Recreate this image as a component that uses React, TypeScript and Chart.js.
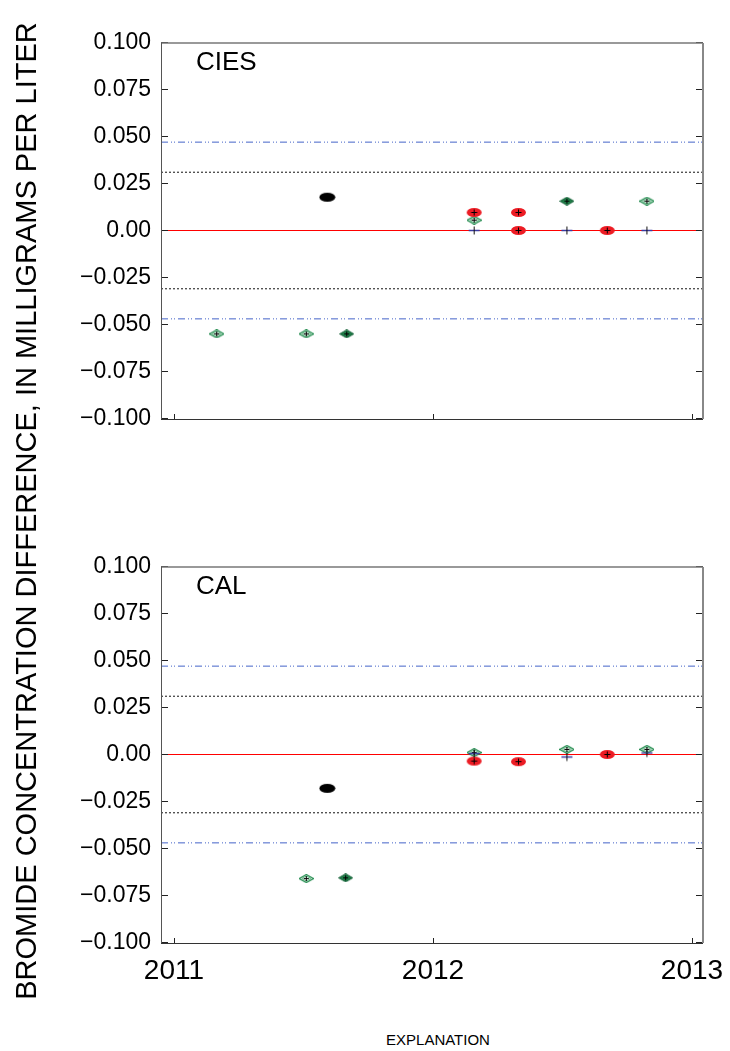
import React, { useEffect, useRef } from 'react';
import { Chart, registerables } from 'chart.js';

Chart.register(...registerables);

const FONT = '"Liberation Sans", Arial, Helvetica, sans-serif';

// ---- axes ----
const xTickValues = [2011, 2012, 2013];
const xTickLabels = ['2011', '2012', '2013'];
const xMin = 2010.95;
const xMax = 2013.0425;
const yTickValues = [-0.1, -0.075, -0.05, -0.025, 0, 0.025, 0.05, 0.075, 0.1];
const yTickLabels = ['\u22120.100', '\u22120.075', '\u22120.050', '\u22120.025', '0.00', '0.025', '0.050', '0.075', '0.100'];
const yMin = -0.1;
const yMax = 0.1;

// ---- reference levels ----
const zeroLevel = [0];
const dottedLevels = [0.031, -0.031];
const dashDotLevels = [0.047, -0.047];

// ---- CIES panel (decimal year, difference mg/L) ----
type Pt = [number, number];
const ciesRed: Pt[] = [[2012.159, 0.0096], [2012.33, 0.0096], [2012.33, 0], [2012.673, 0]];
const ciesGreenOpen: Pt[] = [[2011.165, -0.055], [2011.511, -0.055], [2012.159, 0.0055], [2012.826, 0.0156]];
const ciesGreenFilled: Pt[] = [[2011.667, -0.055], [2012.517, 0.0156]];
const ciesBlack: Pt[] = [[2011.592, 0.0177]];
const ciesBlue: Pt[] = [[2012.159, 0], [2012.517, 0], [2012.826, 0]];

// ---- CAL panel ----
const calRed: Pt[] = [[2012.159, -0.0035], [2012.33, -0.0038], [2012.673, 0]];
const calGreenOpen: Pt[] = [[2011.511, -0.066], [2012.159, 0.001], [2012.517, 0.0027], [2012.826, 0.0027]];
const calGreenFilled: Pt[] = [[2011.663, -0.0656]];
const calBlack: Pt[] = [[2011.592, -0.018]];
const calBlue: Pt[] = [[2012.159, 0.0005], [2012.517, -0.0013], [2012.826, 0.0008]];

type Panel = { red: Pt[]; greenOpen: Pt[]; greenFilled: Pt[]; black: Pt[]; blue: Pt[] };

function makeCanvas(w: number, h: number, draw: (ctx: CanvasRenderingContext2D) => void) {
  const c = document.createElement('canvas');
  c.width = w;
  c.height = h;
  const ctx = c.getContext('2d')!;
  draw(ctx);
  return c;
}

function plus(ctx: CanvasRenderingContext2D, cx: number, cy: number, r: number, color = '#000') {
  ctx.strokeStyle = color;
  ctx.lineWidth = 1;
  ctx.beginPath();
  ctx.moveTo(cx - r, cy);
  ctx.lineTo(cx + r, cy);
  ctx.moveTo(cx, cy - r);
  ctx.lineTo(cx, cy + r);
  ctx.stroke();
}

function diamond(ctx: CanvasRenderingContext2D, cx: number, cy: number, hw: number, hh: number) {
  ctx.beginPath();
  ctx.moveTo(cx, cy - hh);
  ctx.lineTo(cx + hw, cy);
  ctx.lineTo(cx, cy + hh);
  ctx.lineTo(cx - hw, cy);
  ctx.closePath();
}

function makeMarkers() {
  const red = makeCanvas(17, 11, (ctx) => {
    ctx.fillStyle = '#ec1c24';
    ctx.beginPath();
    ctx.ellipse(8.5, 5.5, 7.5, 4.5, 0, 0, Math.PI * 2);
    ctx.fill();
    plus(ctx, 8.5, 5.5, 3);
  });
  const black = makeCanvas(17, 11, (ctx) => {
    ctx.fillStyle = '#000';
    ctx.beginPath();
    ctx.ellipse(8.5, 5.5, 8, 4.5, 0, 0, Math.PI * 2);
    ctx.fill();
  });
  const greenOpen = makeCanvas(15, 9, (ctx) => {
    diamond(ctx, 7.5, 4.5, 7, 4);
    ctx.fillStyle = '#fff';
    ctx.fill();
    ctx.strokeStyle = '#1f8a4c';
    ctx.lineWidth = 1.2;
    ctx.stroke();
    diamond(ctx, 7.5, 4.5, 4.5, 2.5);
    ctx.strokeStyle = '#5fb582';
    ctx.lineWidth = 1;
    ctx.stroke();
    plus(ctx, 7.5, 4.5, 2.5);
  });
  const greenFilled = makeCanvas(15, 9, (ctx) => {
    diamond(ctx, 7.5, 4.5, 7, 4);
    ctx.fillStyle = '#1f7d48';
    ctx.fill();
    ctx.strokeStyle = '#105c33';
    ctx.lineWidth = 1;
    ctx.stroke();
    plus(ctx, 7.5, 4.5, 2.5);
  });
  const blue = makeCanvas(13, 11, (ctx) => {
    ctx.strokeStyle = '#3a3a9e';
    ctx.lineWidth = 1.5;
    ctx.beginPath();
    ctx.moveTo(1, 5.5);
    ctx.lineTo(12, 5.5);
    ctx.stroke();
    ctx.strokeStyle = '#111';
    ctx.lineWidth = 1;
    ctx.beginPath();
    ctx.moveTo(6.5, 1.5);
    ctx.lineTo(6.5, 9.5);
    ctx.stroke();
  });
  return { red, black, greenOpen, greenFilled, blue };
}

type Markers = ReturnType<typeof makeMarkers>;

function framePlugin(label: string) {
  return {
    id: 'frame_' + label,
    afterDraw(chart: any) {
      const { ctx, chartArea } = chart;
      const left = Math.round(chartArea.left);
      const right = Math.round(chartArea.right);
      const top = Math.round(chartArea.top);
      const bottom = Math.round(chartArea.bottom);
      const xs = chart.scales.x;
      const ys = chart.scales.y;
      ctx.save();
      ctx.strokeStyle = '#222';
      ctx.lineWidth = 1;
      ctx.beginPath();
      ys.ticks.forEach((t: any) => {
        const py = Math.floor(ys.getPixelForValue(t.value)) + 0.5;
        ctx.moveTo(left, py);
        ctx.lineTo(left + 7, py);
        ctx.moveTo(right, py);
        ctx.lineTo(right - 7, py);
      });
      xs.ticks.forEach((t: any) => {
        const px = Math.round(xs.getPixelForValue(t.value)) + 0.5;
        ctx.moveTo(px, bottom);
        ctx.lineTo(px, bottom - 5);
      });
      ctx.stroke();
      // frame
      ctx.lineWidth = 1.5;
      ctx.strokeStyle = '#777';
      ctx.beginPath();
      ctx.moveTo(left, top);
      ctx.lineTo(right, top);
      ctx.stroke();
      ctx.lineWidth = 2;
      ctx.strokeStyle = '#888';
      ctx.beginPath();
      ctx.moveTo(right, top);
      ctx.lineTo(right, bottom);
      ctx.stroke();
      ctx.lineWidth = 1;
      ctx.strokeStyle = '#555';
      ctx.beginPath();
      ctx.moveTo(left + 0.5, top);
      ctx.lineTo(left + 0.5, bottom);
      ctx.stroke();
      ctx.strokeStyle = '#333';
      ctx.beginPath();
      ctx.moveTo(left, bottom + 0.5);
      ctx.lineTo(right, bottom + 0.5);
      ctx.stroke();
      // panel label
      ctx.fillStyle = '#000';
      ctx.font = '26px ' + FONT;
      ctx.textAlign = 'left';
      ctx.textBaseline = 'alphabetic';
      ctx.fillText(label, left + 35, top + 27);
      ctx.restore();
    },
  };
}

function buildConfig(panel: Panel, label: string, showX: boolean, padTop: number, xAxisH: number, m: Markers): any {
  const lineSet = (level: number, color: string, dash: number[], width = 1) => ({
    type: 'line',
    order: 10,
    data: [
      { x: xMin, y: level },
      { x: xMax, y: level },
    ],
    borderColor: color,
    borderWidth: width,
    borderDash: dash,
    pointRadius: 0,
    showLine: true,
    fill: false,
  });
  const ptSet = (pts: Pt[], img: HTMLCanvasElement, order: number) => ({
    type: 'scatter',
    order,
    data: pts.map(([x, y]) => ({ x, y })),
    pointStyle: img,
    pointRadius: 5,
    pointHoverRadius: 5,
    showLine: false,
  });
  return {
    type: 'scatter',
    data: {
      datasets: [
        ...dottedLevels.map((l) => lineSet(l, '#111', [2, 2])),
        ...dashDotLevels.map((l) => lineSet(l, '#4463c8', [7, 3, 1, 2, 1, 3], 1)),
        ...zeroLevel.map((l) => lineSet(l, '#ff0000', [], 1)),
        ptSet(panel.greenOpen, m.greenOpen, 4),
        ptSet(panel.greenFilled, m.greenFilled, 3),
        ptSet(panel.red, m.red, 2),
        ptSet(panel.blue, m.blue, 1),
        ptSet(panel.black, m.black, 0),
      ],
    },
    options: {
      animation: false,
      responsive: false,
      events: [],
      layout: { padding: { top: padTop, right: 27, left: 0, bottom: 0 } },
      plugins: { legend: { display: false }, tooltip: { enabled: false }, title: { display: false } },
      scales: {
        x: {
          type: 'linear',
          min: xMin,
          max: xMax,
          afterBuildTicks: (s: any) => {
            s.ticks = xTickValues.map((v) => ({ value: v }));
          },
          afterFit: (s: any) => {
            s.height = xAxisH;
            s.paddingLeft = 0;
            s.paddingRight = 0;
          },
          ticks: {
            display: showX,
            autoSkip: false,
            maxRotation: 0,
            padding: 12,
            color: '#000',
            font: { size: 28, family: FONT },
            callback: (_v: any, i: number) => xTickLabels[i],
          },
          grid: { display: false, drawTicks: false },
          border: { display: false },
        },
        y: {
          type: 'linear',
          min: yMin,
          max: yMax,
          afterBuildTicks: (s: any) => {
            s.ticks = yTickValues.map((v) => ({ value: v }));
          },
          afterFit: (s: any) => {
            s.width = 161;
            s.paddingTop = 0;
            s.paddingBottom = 0;
          },
          ticks: {
            autoSkip: false,
            padding: 10,
            color: '#000',
            font: { size: 23, family: FONT },
            callback: (_v: any, i: number) => yTickLabels[i],
          },
          grid: { display: false, drawTicks: false },
          border: { display: false },
        },
      },
    },
    plugins: [framePlugin(label)],
  };
}

const ciesPanel: Panel = { red: ciesRed, greenOpen: ciesGreenOpen, greenFilled: ciesGreenFilled, black: ciesBlack, blue: ciesBlue };
const calPanel: Panel = { red: calRed, greenOpen: calGreenOpen, greenFilled: calGreenFilled, black: calBlack, blue: calBlue };

export default function App() {
  const topRef = useRef<HTMLCanvasElement>(null);
  const botRef = useRef<HTMLCanvasElement>(null);

  useEffect(() => {
    const marks = makeMarkers();
    const c1 = new Chart(topRef.current!, buildConfig(ciesPanel, 'CIES', false, 42.5, 51.5, marks));
    const c2 = new Chart(botRef.current!, buildConfig(calPanel, 'CAL', true, 66.5, 57.5, marks));
    return () => {
      c1.destroy();
      c2.destroy();
    };
  }, []);

  return (
    <div style={{ position: 'absolute', left: 0, top: 0, width: 730, height: 1051, overflow: 'hidden', background: '#fff', fontFamily: FONT, color: '#000' }}>
      <canvas ref={topRef} width={730} height={470} style={{ position: 'absolute', left: 0, top: 0, width: 730, height: 470 }} />
      <canvas ref={botRef} width={730} height={500} style={{ position: 'absolute', left: 0, top: 500, width: 730, height: 500 }} />
      <div
        style={{
          position: 'absolute',
          left: 26 - 500,
          top: 511 - 17,
          width: 1000,
          height: 34,
          lineHeight: '34px',
          fontSize: 29,
          textAlign: 'center',
          whiteSpace: 'nowrap',
          transform: 'rotate(-90deg)',
        }}
      >
        BROMIDE CONCENTRATION DIFFERENCE, IN MILLIGRAMS PER LITER
      </div>
      <div style={{ position: 'absolute', left: 338, top: 1031, width: 200, fontSize: 15, lineHeight: '17px', textAlign: 'center', whiteSpace: 'nowrap' }}>
        EXPLANATION
      </div>
    </div>
  );
}
